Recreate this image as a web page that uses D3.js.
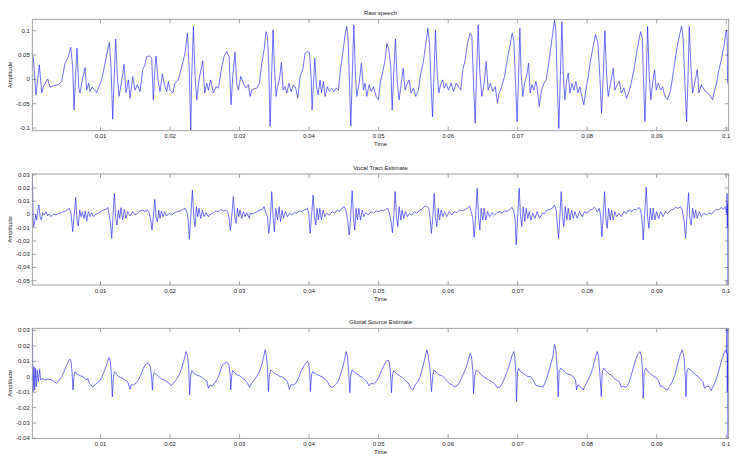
<!DOCTYPE html>
<html><head><meta charset="utf-8">
<script src="https://cdn.jsdelivr.net/npm/d3@7"></script>
<style>
body{margin:0;background:#fff}
svg text{font-family:Arial,"Liberation Sans",Helvetica,sans-serif;font-size:6px;fill:#222}
</style>
</head><body>
<svg id="chart" width="747" height="464"></svg>
<script>
// ---- DATA (time in milliseconds, amplitude in signal units) ----
const xTickValues = [0.01,0.02,0.03,0.04,0.05,0.06,0.07,0.08,0.09,0.1];
const timeRangeMs = [0.26, 100.42];

const titles = ["Raw speech", "Vocal Tract Estimate", "Glottal Source Estimate"];
const xLabel = "Time";
const yLabel = "Amplitude";

const rawTicks = [-0.1,-0.05,0,0.05,0.1];
const rawRange = [-0.1065, 0.1225];
const vocalTicks = [-0.05,-0.04,-0.03,-0.02,-0.01,0,0.01,0.02,0.03];
const vocalRange = [-0.0536, 0.0302];
const glottalTicks = [-0.04,-0.03,-0.02,-0.01,0,0.01,0.02,0.03];
const glottalRange = [-0.0402, 0.0311];

const rawTime = [0.26,0.41,0.79,1.27,1.61,1.85,2.47,2.81,3.29,4.00,4.48,4.96,5.44,5.78,6.07,6.26,6.45,6.69,6.93,7.12,7.46,7.84,8.08,8.37,8.56,8.85,9.14,9.52,9.90,10.24,10.72,11.10,11.34,11.58,11.82,12.01,12.25,12.49,12.73,13.12,13.45,13.74,14.08,14.32,14.70,15.04,15.37,15.76,16.14,16.47,16.71,17.10,17.43,17.67,17.91,18.06,18.34,18.63,18.97,19.26,19.59,19.83,20.07,20.46,20.79,21.27,21.75,22.23,22.57,22.81,23.05,23.19,23.43,23.67,23.91,24.24,24.77,25.06,25.35,25.59,25.92,26.31,26.69,27.03,27.51,27.84,28.22,28.56,28.85,29.09,29.42,29.66,29.90,30.24,30.62,31.00,31.34,
31.58,31.82,32.06,32.54,32.93,33.26,33.60,33.88,34.08,34.27,34.46,34.65,34.89,35.08,35.32,35.52,35.80,36.09,36.33,36.62,36.86,37.19,37.48,37.82,38.15,38.44,38.78,39.16,39.50,39.83,40.12,40.36,40.50,40.70,40.89,41.13,41.37,41.65,41.85,42.13,42.37,42.71,42.99,43.33,43.67,43.96,44.29,44.63,44.92,45.25,45.49,45.68,45.88,46.07,46.26,46.50,46.74,46.93,47.27,47.60,47.89,48.13,48.37,48.71,49.00,49.33,49.71,50.05,50.29,50.67,51.01,51.25,51.54,51.82,52.02,52.25,52.49,52.73,53.02,53.26,53.60,53.88,54.12,54.46,54.75,55.08,55.42,55.80,56.14,56.52,56.86,57.15,57.39,57.63,57.82,58.01,58.25,58.49,58.73,59.02,59.30,59.50,59.78,60.12,60.50,60.84,61.22,61.56,61.89,62.18,62.52,62.85,63.24,63.48,63.72,63.96,64.15,64.39,64.63,64.92,65.25,65.54,65.83,66.12,66.50,66.84,67.17,67.40,
67.60,67.89,68.18,68.56,68.94,69.28,69.52,69.76,69.99,70.19,70.38,70.57,70.81,71.05,71.34,71.63,71.87,72.11,72.40,72.69,72.88,73.17,73.50,73.84,74.17,74.46,74.80,75.04,75.37,75.56,75.76,75.99,76.19,76.43,76.62,76.86,77.10,77.34,77.58,77.87,78.15,78.44,78.73,79.02,79.30,79.59,79.88,80.22,80.55,80.94,81.27,81.61,81.89,82.13,82.37,82.61,82.85,83.09,83.43,83.81,84.05,84.39,84.68,84.96,85.35,85.73,86.07,86.40,86.79,87.17,87.51,87.75,87.99,88.18,88.37,88.56,88.75,88.99,89.23,89.47,89.76,90.00,90.29,90.62,90.91,91.25,91.58,91.97,92.30,92.64,93.02,93.41,93.65,93.88,94.12,94.36,94.56,94.75,94.99,95.23,95.52,95.90,96.14,96.48,96.76,97.05,97.43,97.82,98.11,98.39,98.68,99.02,99.35,99.74,99.98,100.12,100.22,100.26];
const rawAmp = [0.049,0.043,-0.033,0.029,-0.029,-0.016,0.000,-0.017,-0.014,-0.012,-0.005,0.032,0.046,0.065,0.025,-0.064,-0.002,0.063,-0.016,-0.029,-0.002,0.023,-0.023,-0.009,-0.026,-0.017,-0.021,-0.028,-0.014,-0.002,0.032,0.060,0.075,0.025,-0.083,-0.009,0.082,0.005,-0.036,-0.005,0.030,-0.028,-0.002,-0.040,0.005,-0.023,-0.012,-0.026,0.019,0.029,0.046,0.047,0.043,-0.043,0.025,0.047,-0.002,-0.026,0.010,-0.012,-0.026,-0.005,-0.023,-0.029,-0.009,-0.002,0.025,0.053,0.094,0.025,-0.106,0.005,0.108,0.005,-0.043,-0.002,0.037,-0.029,-0.009,-0.023,-0.002,-0.029,-0.016,-0.019,0.025,0.046,0.056,0.046,-0.053,0.005,0.055,-0.009,-0.023,0.005,-0.009,-0.019,-0.012,
-0.036,-0.023,-0.021,-0.019,-0.009,0.032,0.060,0.097,0.087,0.025,-0.098,-0.009,0.101,0.025,-0.036,-0.016,-0.002,0.034,-0.023,-0.016,-0.029,-0.009,-0.026,-0.012,-0.019,-0.040,0.005,0.019,0.053,0.056,0.054,0.005,-0.064,-0.009,0.043,-0.016,-0.033,-0.002,-0.029,-0.005,-0.036,-0.016,-0.026,-0.019,-0.026,-0.019,-0.023,0.025,0.053,0.091,0.108,0.080,-0.009,-0.097,-0.002,0.111,0.005,-0.036,-0.009,0.032,-0.023,-0.009,-0.036,-0.012,-0.026,-0.016,-0.036,-0.043,-0.009,0.015,0.039,0.073,0.060,0.025,-0.064,0.012,0.082,-0.002,-0.043,-0.016,0.022,-0.023,-0.012,-0.002,-0.029,-0.019,-0.036,-0.023,0.012,0.036,0.073,0.104,0.073,-0.016,-0.078,-0.002,0.101,0.012,-0.029,-0.009,-0.002,-0.019,-0.009,-0.023,-0.009,-0.026,-0.009,-0.016,-0.023,0.019,0.039,0.073,0.094,0.087,-0.009,-0.091,0.005,0.111,0.012,-0.036,-0.009,0.036,-0.023,-0.009,-0.026,-0.016,-0.050,-0.029,
-0.023,-0.009,0.005,0.039,0.067,0.094,0.080,-0.009,-0.088,-0.002,0.104,0.012,-0.036,-0.009,0.005,0.032,-0.029,-0.012,-0.023,-0.005,-0.019,-0.057,-0.023,-0.009,-0.002,0.025,0.060,0.087,0.121,0.101,-0.009,-0.102,-0.002,0.118,0.012,-0.043,-0.005,0.012,-0.029,-0.009,-0.023,-0.005,-0.029,-0.016,-0.036,-0.053,-0.023,0.005,0.039,0.067,0.091,0.073,0.005,-0.071,0.005,0.099,0.012,-0.036,-0.009,0.022,-0.023,-0.012,-0.005,-0.029,-0.019,-0.040,-0.026,-0.009,0.019,0.053,0.080,0.097,0.084,-0.009,-0.088,-0.002,0.108,0.005,-0.043,-0.009,0.019,-0.023,-0.009,-0.023,-0.016,-0.036,-0.043,-0.029,-0.002,0.032,0.067,0.094,0.108,0.080,-0.009,-0.088,-0.002,0.108,0.025,-0.029,-0.009,0.019,-0.029,-0.012,-0.019,-0.026,-0.029,-0.036,-0.043,-0.023,-0.009,0.019,0.039,0.067,0.094,0.101,0.073,-0.009];

const vocalTract = [[0.26,0.0302],[0.41,-0.0096],[0.55,-0.0083],[0.74,-0.0008],[0.89,-0.0045],[1.08,0.0043],[1.22,0.0068],[1.37,-0.0020],[1.56,-0.0045],[1.75,0.0010],[1.99,-0.0008],[2.23,0.0018],[2.47,-0.0015],[2.71,0.0000],[2.95,-0.0020],[3.29,0.0000],[3.67,-0.0008],[4.00,0.0005],[4.39,0.0010],[4.72,0.0018],[5.06,0.0023],[5.35,0.0035],[5.59,0.0043],[5.83,0.0005],[6.07,-0.0133],[6.26,-0.0020],[6.50,0.0126],[6.69,-0.0045],[6.88,-0.0091],[7.07,0.0030],[7.27,-0.0020],[7.46,0.0018],[7.70,-0.0033],[7.89,0.0023],[8.08,-0.0053],[8.32,0.0018],[8.56,-0.0020],[8.80,0.0010],[9.04,-0.0020],[9.42,0.0000],[9.76,0.0005],[10.14,0.0018],[10.48,0.0030],[10.86,0.0035],[11.10,0.0050],[11.29,0.0005],[11.49,-0.0058],[11.68,-0.0184],[11.87,-0.0020],[12.06,0.0156],[12.25,-0.0033],[12.45,-0.0083],[12.64,0.0030],[12.83,-0.0033],[13.02,0.0048],[13.26,-0.0045],[13.50,0.0035],[13.74,-0.0033],[13.98,0.0018],[14.32,-0.0015],[14.70,0.0018],[15.04,-0.0008],[15.37,0.0005],[15.76,0.0023],[16.14,0.0030],[16.47,0.0018],[16.81,0.0030],[17.10,0.0005],[17.29,-0.0045],[17.48,-0.0121],[17.67,-0.0020],[17.87,0.0111],[18.06,-0.0020],[18.25,-0.0058],[18.44,0.0030],[18.63,-0.0033],[18.82,0.0023],[19.06,-0.0020],[19.30,0.0018],[19.59,-0.0015],[19.93,0.0005],[20.31,-0.0008],[20.70,0.0010],[21.13,0.0018],[21.51,0.0023],[21.89,0.0035],[22.23,0.0043],[22.47,0.0018],[22.66,-0.0033],[22.85,-0.0191],[23.05,-0.0020],[23.29,0.0181],[23.48,-0.0020],[23.67,-0.0096],[23.86,0.0055],[24.05,-0.0020],[24.24,0.0043],[24.48,-0.0033],[24.72,0.0030],[24.96,-0.0020],[25.25,0.0010],[25.59,-0.0020],[25.92,0.0000],[26.31,0.0010],[26.69,0.0023],[27.03,0.0018],[27.36,0.0035],[27.75,0.0025],[28.08,0.0030],[28.37,0.0018],[28.56,-0.0033],[28.75,-0.0126],[28.94,-0.0020],[29.18,0.0131],[29.38,-0.0020],[29.57,-0.0070],[29.76,0.0043],[29.95,-0.0020],[30.14,0.0030],[30.38,-0.0033],[30.62,0.0018],[30.86,-0.0020],[31.10,0.0010],[31.49,-0.0033],
[31.58,0.0005],[31.97,0.0000],[32.30,0.0010],[32.64,0.0018],[33.02,0.0030],[33.36,0.0035],[33.60,0.0055],[33.84,0.0010],[34.08,-0.0020],[34.27,-0.0146],[34.46,-0.0070],[34.70,0.0169],[34.89,-0.0020],[35.08,-0.0133],[35.28,0.0043],[35.52,-0.0045],[35.76,0.0055],[35.95,-0.0058],[36.19,0.0030],[36.38,-0.0033],[36.67,0.0018],[36.96,-0.0020],[37.24,0.0005],[37.58,-0.0008],[37.91,0.0010],[38.30,0.0005],[38.63,0.0023],[39.02,0.0018],[39.35,0.0030],[39.64,0.0035],[39.83,0.0043],[40.02,0.0005],[40.22,-0.0146],[40.41,-0.0020],[40.65,0.0143],[40.84,-0.0020],[41.03,-0.0083],[41.22,0.0043],[41.41,-0.0045],[41.61,0.0043],[41.85,-0.0045],[42.09,0.0030],[42.33,-0.0020],[42.61,0.0005],[43.00,-0.0008],[43.38,0.0018],[43.76,0.0005],[44.15,0.0030],[44.44,0.0018],[44.77,0.0043],[45.11,0.0055],[45.35,0.0030],[45.59,-0.0033],[45.83,-0.0158],[46.02,-0.0045],[46.26,0.0176],[46.45,-0.0020],[46.64,-0.0121],[46.83,0.0043],[47.03,-0.0045],[47.22,0.0043],[47.46,-0.0045],[47.70,0.0030],[47.94,-0.0020],[48.22,0.0010],[48.61,-0.0008],[48.94,0.0018],[49.33,0.0005],[49.71,0.0023],[50.10,0.0018],[50.43,0.0030],[50.77,0.0025],[51.10,0.0035],[51.39,0.0043],[51.63,0.0005],[51.87,-0.0058],[52.06,-0.0141],[52.25,-0.0020],[52.45,0.0169],[52.64,-0.0020],[52.83,-0.0096],[53.02,0.0055],[53.26,-0.0045],[53.45,0.0030],[53.69,-0.0033],[53.93,0.0018],[54.22,-0.0020],[54.51,0.0005],[54.84,-0.0008],[55.18,0.0018],[55.56,0.0005],[55.95,0.0030],[56.28,0.0035],[56.62,0.0055],[57.00,0.0060],[57.29,0.0043],[57.48,-0.0033],[57.67,-0.0146],[57.87,-0.0020],[58.06,0.0156],[58.25,-0.0033],[58.44,-0.0096],[58.63,0.0043],[58.83,-0.0045],[59.06,0.0030],[59.30,-0.0020],[59.54,0.0018],[59.88,-0.0020],[60.22,0.0018],[60.60,-0.0008],[60.94,0.0018],[61.32,0.0010],[61.70,0.0030],[62.13,0.0025],[62.52,0.0035],[62.85,0.0043],[63.14,0.0060],[63.38,0.0018],[63.62,-0.0033],[63.81,-0.0176],[64.00,-0.0045],[64.24,0.0194],[64.44,-0.0020],[64.63,-0.0121],[64.82,0.0043],[65.06,-0.0045],[65.25,0.0043],[65.49,-0.0045],[65.73,0.0018],[66.02,-0.0020],[66.36,0.0010],[66.74,-0.0008],[67.07,0.0010],
[67.50,0.0018],[67.84,0.0005],[68.18,0.0025],[68.56,0.0018],[68.94,0.0035],[69.28,0.0050],[69.52,0.0018],[69.71,-0.0045],[69.86,-0.0234],[70.05,-0.0045],[70.29,0.0194],[70.48,-0.0020],[70.67,-0.0096],[70.86,0.0055],[71.10,-0.0058],[71.29,0.0043],[71.53,-0.0033],[71.73,0.0018],[71.97,-0.0045],[72.25,0.0005],[72.54,-0.0033],[72.88,0.0018],[73.21,-0.0033],[73.60,0.0005],[73.93,0.0005],[74.32,0.0030],[74.70,0.0035],[75.04,0.0043],[75.37,0.0068],[75.61,0.0030],[75.80,-0.0096],[75.95,-0.0184],[76.14,-0.0020],[76.33,0.0169],[76.52,-0.0020],[76.71,-0.0096],[76.91,0.0055],[77.15,-0.0045],[77.34,0.0043],[77.58,-0.0045],[77.82,0.0030],[78.06,-0.0033],[78.30,0.0018],[78.63,-0.0033],[78.97,0.0018],[79.35,-0.0020],[79.69,0.0018],[80.07,0.0005],[80.46,0.0030],[80.79,0.0035],[81.13,0.0050],[81.51,0.0018],[81.80,0.0043],[81.99,-0.0008],[82.18,-0.0171],[82.37,-0.0020],[82.57,0.0169],[82.76,-0.0033],[82.95,-0.0108],[83.14,0.0043],[83.38,-0.0045],[83.57,0.0030],[83.81,-0.0045],[84.05,0.0018],[84.29,-0.0020],[84.63,0.0005],[84.96,-0.0020],[85.35,0.0018],[85.73,0.0005],[86.07,0.0030],[86.40,0.0018],[86.79,0.0035],[87.17,0.0030],[87.51,0.0050],[87.75,0.0030],[87.94,-0.0033],[88.13,-0.0196],[88.32,-0.0020],[88.56,0.0201],[88.75,-0.0020],[88.95,-0.0108],[89.14,0.0043],[89.38,-0.0045],[89.57,0.0043],[89.81,-0.0045],[90.05,0.0018],[90.34,-0.0033],[90.62,0.0018],[90.96,-0.0020],[91.34,0.0018],[91.68,0.0005],[92.06,0.0030],[92.45,0.0035],[92.78,0.0050],[93.17,0.0043],[93.50,0.0055],[93.74,0.0030],[93.98,-0.0045],[94.22,-0.0184],[94.41,-0.0020],[94.65,0.0161],[94.84,-0.0033],[95.03,-0.0083],[95.23,0.0043],[95.47,-0.0033],[95.66,0.0030],[95.90,-0.0033],[96.19,0.0018],[96.48,-0.0020],[96.86,0.0005],[97.24,-0.0008],[97.58,0.0010],[97.91,0.0000],[98.30,0.0018],[98.68,0.0035],[99.02,0.0030],[99.35,0.0050],[99.64,0.0035],[99.93,0.0055],[100.12,0.0005],[100.18,0.0156],[100.22,-0.0100],[100.26,0.0080],[100.30,-0.0536]];

const glottalSource = [[0.26,0.0311],[0.36,-0.0099],[0.50,0.0063],[0.60,-0.0089],[0.70,0.0052],[0.84,-0.0067],[0.98,0.0041],[1.13,-0.0035],[1.32,0.0045],[1.46,-0.0024],[1.70,-0.0013],[2.09,-0.0024],[2.57,-0.0019],[3.05,-0.0024],[3.43,-0.0035],[3.76,-0.0045],[4.15,-0.0024],[4.48,-0.0002],[4.82,0.0030],[5.11,0.0063],[5.35,0.0084],[5.54,0.0106],[5.68,0.0110],[5.83,0.0095],[5.97,0.0030],[6.12,-0.0089],[6.26,0.0009],[6.40,0.0030],[6.64,0.0015],[6.93,0.0009],[7.22,0.0002],[7.60,-0.0002],[7.99,-0.0024],[8.23,-0.0013],[8.47,-0.0045],[8.71,-0.0056],[8.94,-0.0071],[9.28,-0.0056],[9.62,-0.0041],[10.00,-0.0028],[10.29,-0.0002],[10.58,0.0030],[10.86,0.0063],[11.10,0.0095],[11.29,0.0121],[11.49,0.0095],[11.63,0.0019],[11.77,-0.0132],[11.92,-0.0013],[12.06,0.0030],[12.30,0.0019],[12.54,0.0002],[12.88,-0.0006],[13.26,-0.0013],[13.60,-0.0024],[13.98,-0.0035],[14.32,-0.0084],[14.46,-0.0056],[14.80,-0.0056],[15.18,-0.0045],[15.52,-0.0024],[15.85,0.0009],[16.24,0.0052],[16.57,0.0078],[16.81,0.0084],[17.05,0.0080],[17.24,0.0063],[17.43,-0.0013],[17.53,-0.0089],[17.67,0.0009],[17.82,0.0024],[18.15,0.0009],[18.54,-0.0006],[18.87,-0.0019],[19.21,-0.0024],[19.59,-0.0035],[19.93,-0.0045],[20.22,-0.0063],[20.55,-0.0045],[20.94,-0.0024],[21.37,0.0009],[21.75,0.0052],[22.09,0.0106],[22.37,0.0160],[22.57,0.0138],[22.76,0.0052],[22.90,-0.0121],[23.05,0.0009],[23.24,0.0037],[23.53,0.0019],[23.91,0.0009],[24.29,0.0002],[24.63,-0.0006],[24.96,-0.0019],[25.35,-0.0030],[25.59,-0.0078],[25.83,-0.0056],[26.16,-0.0063],[26.55,-0.0041],[26.93,-0.0013],[27.27,0.0030],[27.60,0.0073],[27.89,0.0084],[28.22,0.0089],[28.51,0.0080],[28.71,0.0019],[28.80,-0.0089],[28.95,0.0009],[29.09,0.0037],[29.42,0.0019],[29.76,0.0009],[30.14,0.0002],[30.53,-0.0013],[30.86,-0.0024],[31.20,-0.0045],[31.49,-0.0071],
[31.82,-0.0045],[32.16,-0.0024],[32.54,-0.0002],[32.93,0.0030],[33.26,0.0073],[33.50,0.0117],[33.74,0.0171],[33.88,0.0149],[34.08,0.0063],[34.22,-0.0099],[34.36,0.0009],[34.56,0.0041],[34.84,0.0030],[35.18,0.0015],[35.52,0.0009],[35.90,-0.0002],[36.28,-0.0006],[36.62,-0.0019],[36.96,-0.0035],[37.24,-0.0084],[37.43,-0.0056],[37.82,-0.0056],[38.20,-0.0045],[38.54,-0.0013],[38.88,0.0030],[39.26,0.0063],[39.59,0.0084],[39.83,0.0095],[40.02,0.0084],[40.17,0.0019],[40.26,-0.0099],[40.41,0.0009],[40.60,0.0030],[40.94,0.0019],[41.32,0.0009],[41.65,0.0002],[42.04,-0.0006],[42.37,-0.0019],[42.71,-0.0035],[43.09,-0.0067],[43.48,-0.0071],[43.86,-0.0056],[44.20,-0.0035],[44.53,0.0002],[44.87,0.0052],[45.16,0.0106],[45.40,0.0160],[45.59,0.0127],[45.78,0.0019],[45.93,-0.0106],[46.07,0.0009],[46.26,0.0041],[46.55,0.0030],[46.93,0.0015],[47.32,0.0002],[47.70,-0.0006],[48.03,-0.0019],[48.37,-0.0035],[48.71,-0.0063],[49.00,-0.0045],[49.33,-0.0050],[49.71,-0.0035],[50.10,-0.0006],[50.48,0.0037],[50.86,0.0073],[51.15,0.0095],[51.39,0.0106],[51.58,0.0095],[51.77,0.0030],[51.92,-0.0106],[52.06,0.0009],[52.25,0.0037],[52.59,0.0019],[52.93,0.0009],[53.26,-0.0002],[53.65,-0.0013],[54.03,-0.0035],[54.36,-0.0045],[54.70,-0.0078],[54.99,-0.0089],[55.32,-0.0056],[55.71,-0.0035],[56.04,-0.0002],[56.38,0.0052],[56.67,0.0106],[57.00,0.0171],[57.19,0.0138],[57.48,0.0041],[57.67,-0.0099],[57.87,0.0009],[58.06,0.0041],[58.44,0.0019],[58.83,0.0009],[59.21,0.0002],[59.59,-0.0013],[59.98,-0.0035],[60.36,-0.0050],[60.65,-0.0056],[60.94,-0.0067],[61.32,-0.0063],[61.70,-0.0041],[62.09,-0.0002],[62.52,0.0041],[62.85,0.0084],[63.24,0.0149],[63.43,0.0127],[63.62,0.0030],[63.72,-0.0114],[63.91,0.0009],[64.10,0.0041],[64.44,0.0030],[64.82,0.0009],[65.16,-0.0002],[65.54,-0.0013],[65.92,-0.0024],[66.31,-0.0035],[66.69,-0.0045],[67.07,-0.0071],
[67.51,-0.0071],[67.84,-0.0045],[68.18,-0.0013],[68.56,0.0030],[68.94,0.0084],[69.28,0.0138],[69.52,0.0160],[69.66,0.0127],[69.81,0.0019],[69.90,-0.0164],[70.05,0.0030],[70.19,0.0052],[70.48,0.0030],[70.86,0.0019],[71.19,0.0009],[71.53,-0.0002],[71.92,-0.0002],[72.30,-0.0024],[72.64,-0.0056],[72.97,-0.0063],[73.36,-0.0067],[73.69,-0.0071],[74.08,-0.0035],[74.41,0.0009],[74.80,0.0073],[75.13,0.0127],[75.37,0.0207],[75.56,0.0171],[75.76,0.0041],[75.90,-0.0132],[76.04,0.0030],[76.24,0.0052],[76.62,0.0041],[76.95,0.0024],[77.29,0.0015],[77.67,0.0009],[78.06,-0.0002],[78.39,-0.0024],[78.54,-0.0089],[78.73,-0.0056],[79.11,-0.0067],[79.50,-0.0089],[79.83,-0.0056],[80.17,-0.0024],[80.55,0.0009],[80.94,0.0063],[81.27,0.0127],[81.51,0.0160],[81.70,0.0127],[81.89,0.0019],[82.09,-0.0132],[82.23,0.0030],[82.47,0.0052],[82.86,0.0030],[83.19,0.0015],[83.53,0.0009],[83.91,-0.0013],[84.29,-0.0024],[84.68,-0.0035],[84.96,-0.0071],[85.25,-0.0063],[85.59,-0.0071],[85.83,-0.0063],[86.21,-0.0024],[86.55,0.0030],[86.88,0.0084],[87.27,0.0138],[87.65,0.0160],[87.89,0.0127],[88.03,0.0019],[88.13,-0.0143],[88.27,0.0030],[88.47,0.0052],[88.80,0.0030],[89.18,0.0015],[89.57,0.0002],[89.90,-0.0006],[90.29,-0.0024],[90.62,-0.0067],[90.86,-0.0063],[91.20,-0.0078],[91.58,-0.0089],[91.92,-0.0067],[92.30,-0.0035],[92.69,0.0009],[93.02,0.0073],[93.41,0.0138],[93.74,0.0171],[93.98,0.0127],[94.17,0.0009],[94.27,-0.0132],[94.41,0.0030],[94.60,0.0052],[94.94,0.0041],[95.32,0.0024],[95.66,0.0009],[96.04,-0.0002],[96.38,-0.0019],[96.71,-0.0035],[96.95,-0.0078],[97.24,-0.0063],[97.58,-0.0067],[97.91,-0.0093],[98.30,-0.0056],[98.68,-0.0013],[99.02,0.0041],[99.35,0.0095],[99.74,0.0149],[99.98,0.0171],[100.12,0.0149],[100.18,0.0311],[100.22,-0.0100],[100.26,0.0150],[100.30,-0.0402]];

const rawSpeech = rawTime.map((t, i) => [t, rawAmp[i]]);

// ---- LAYOUT ----
const panels = [
  {title: titles[0], data: rawSpeech, yDomain: rawRange, yTicks: rawTicks, top: 19.3, bottom: 130.7},
  {title: titles[1], data: vocalTract, yDomain: vocalRange, yTicks: vocalTicks, top: 174, bottom: 285},
  {title: titles[2], data: glottalSource, yDomain: glottalRange, yTicks: glottalTicks, top: 328.3, bottom: 438.3}
];
const left = 32.3, right = 728.7;
const axisColor = "#8a8a8a";
const fmt = d => d === 0 ? "0" : String(+d.toFixed(3));

const svg = d3.select("#chart");
const x = d3.scaleLinear().domain(timeRangeMs.map(t => t / 1000)).range([left, right]);

panels.forEach(p => {
  const y = d3.scaleLinear().domain(p.yDomain).range([p.bottom, p.top]);
  const g = svg.append("g");

  const styleAxis = sel => {
    sel.select(".domain").remove();
    sel.selectAll(".tick line").attr("stroke", axisColor).attr("stroke-width", 0.8);
    sel.selectAll(".tick text").attr("fill", "#222").style("font-size", "6px");
  };
  g.append("g").attr("transform", `translate(0,${p.bottom})`)
    .call(d3.axisBottom(x).tickValues(xTickValues).tickFormat(fmt).tickSizeInner(-4).tickSizeOuter(0).tickPadding(3.5))
    .call(styleAxis);
  g.append("g").attr("transform", `translate(0,${p.top})`)
    .call(d3.axisTop(x).tickValues(xTickValues).tickFormat("").tickSizeInner(-4).tickSizeOuter(0))
    .call(styleAxis);
  g.append("g").attr("transform", `translate(${left},0)`)
    .call(d3.axisLeft(y).tickValues(p.yTicks).tickFormat(fmt).tickSizeInner(-4).tickSizeOuter(0).tickPadding(2.5))
    .call(styleAxis);
  g.append("g").attr("transform", `translate(${right},0)`)
    .call(d3.axisRight(y).tickValues(p.yTicks).tickFormat("").tickSizeInner(-4).tickSizeOuter(0))
    .call(styleAxis);

  const clipId = "clip" + Math.round(p.top);
  svg.append("clipPath").attr("id", clipId).append("rect")
    .attr("x", left).attr("y", p.top).attr("width", right - left).attr("height", p.bottom - p.top);
  g.append("path")
    .datum(p.data)
    .attr("clip-path", `url(#${clipId})`)
    .attr("fill", "none")
    .attr("stroke", "#2222ff")
    .attr("stroke-width", 0.65)
    .attr("stroke-linejoin", "round")
    .attr("d", d3.line().x(d => x(d[0] / 1000)).y(d => y(d[1])));

  g.append("rect").attr("x", left).attr("y", p.top)
    .attr("width", right - left).attr("height", p.bottom - p.top)
    .attr("fill", "none").attr("stroke", axisColor).attr("stroke-width", 0.8);

  g.append("text").attr("x", (left + right) / 2).attr("y", p.top - 4.3)
    .attr("text-anchor", "middle").text(p.title);
  g.append("text").attr("x", (left + right) / 2).attr("y", p.bottom + 15.6)
    .attr("text-anchor", "middle").text(xLabel);
  g.append("text")
    .attr("transform", `translate(12,${(p.top + p.bottom) / 2}) rotate(-90)`)
    .attr("text-anchor", "middle").text(yLabel);
});
</script>
</body></html>
